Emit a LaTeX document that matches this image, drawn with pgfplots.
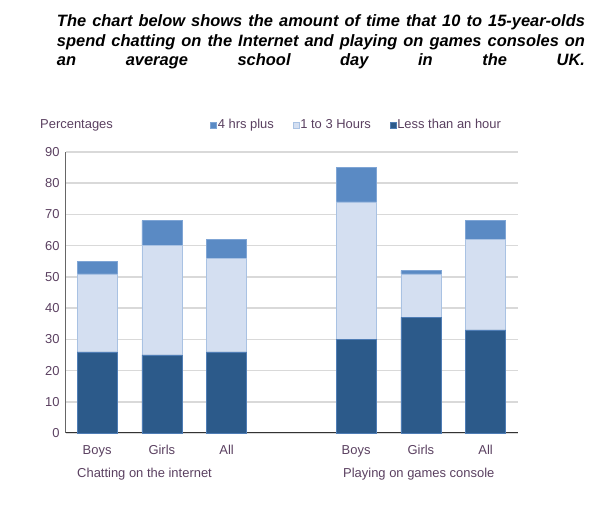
\documentclass[border=0pt]{standalone}
\usepackage{pgfplots}
\pgfplotsset{compat=1.18}
\usepackage{fontspec}
\setmainfont{Liberation Sans}
\definecolor{lessc}{HTML}{2C5A8A}
\definecolor{lessd}{HTML}{4F7DB5}
\definecolor{midc}{HTML}{D4DFF1}
\definecolor{midd}{HTML}{A9C2E3}
\definecolor{topc}{HTML}{5A8AC4}
\definecolor{topd}{HTML}{7FA5D5}
\definecolor{txt}{HTML}{5A4060}
\definecolor{gridc}{HTML}{D9D9D9}
\begin{document}
\begin{tikzpicture}[x=1bp,y=1bp]
\begin{axis}[
  at={(0,0)}, anchor=south west,
  scale only axis,
  width=452bp, height=281bp,
  ybar stacked,
  bar width=40bp,
  xmin=-0.48, xmax=6.5,
  ymin=0, ymax=90,
  ytick={0,10,...,90},
  xtick={0,1,2,4,5,6},
  xticklabels={Boys,Girls,All,Boys,Girls,All},
  major tick length=0pt,
  ymajorgrids=true,
  grid style={gridc, line width=1.5bp},
  axis x line*=bottom,
  axis y line*=left,
  x axis line style={draw=black!80, line width=1bp, -},
  y axis line style={draw=black!60, line width=1bp, -},
  tick label style={font=\fontsize{13}{15}\selectfont, text=txt},
  /pgf/number format/assume math mode=true,
  yticklabel style={xshift=-3bp},
  xticklabel style={yshift=-9bp},
  clip=false,
  reverse legend,
  legend columns=3,
  legend style={at={(0.642,1.096)}, anchor=center, draw=none,
    font=\fontsize{13}{15}\selectfont, text=txt,
    /tikz/every even column/.append style={column sep=18bp},
    nodes={inner sep=1bp}},
  legend image code/.code={\fill[#1] (0bp,-3bp) rectangle (6bp,3bp);},
]
\addplot[fill=lessc, draw=lessd] coordinates {(0,26) (1,25) (2,26) (4,30) (5,37) (6,33)};
\addlegendentry{Less than an hour}
\addplot[fill=midc, draw=midd] coordinates {(0,25) (1,35) (2,30) (4,44) (5,14) (6,29)};
\addlegendentry{1 to 3 Hours}
\addplot[fill=topc, draw=topd] coordinates {(0,4) (1,8) (2,6) (4,11) (5,1) (6,6)};
\addlegendentry{4 hrs plus}
\end{axis}
\node[anchor=west, text=txt, font=\fontsize{13}{15}\selectfont, inner sep=0pt] at (-26,308) {Percentages};
\node[anchor=west, text=txt, font=\fontsize{13}{15}\selectfont, inner sep=0pt] at (11,-41) {Chatting on the internet};
\node[anchor=west, text=txt, font=\fontsize{13}{15}\selectfont, inner sep=0pt] at (277,-41) {Playing on games console};
\node[font=\fontsize{16.5}{19.5}\selectfont\bfseries\itshape, align=left, inner sep=0pt] at (255,391) {%
\makebox[528bp][s]{The chart below shows the amount of time that 10 to 15-year-olds}\\
\makebox[528bp][s]{spend chatting on the Internet and playing on games consoles on}\\
\makebox[528bp][s]{an average school day in the UK.}};
\pgfresetboundingbox
\useasboundingbox (-66,-73) rectangle (545,433);
\end{tikzpicture}
\end{document}
